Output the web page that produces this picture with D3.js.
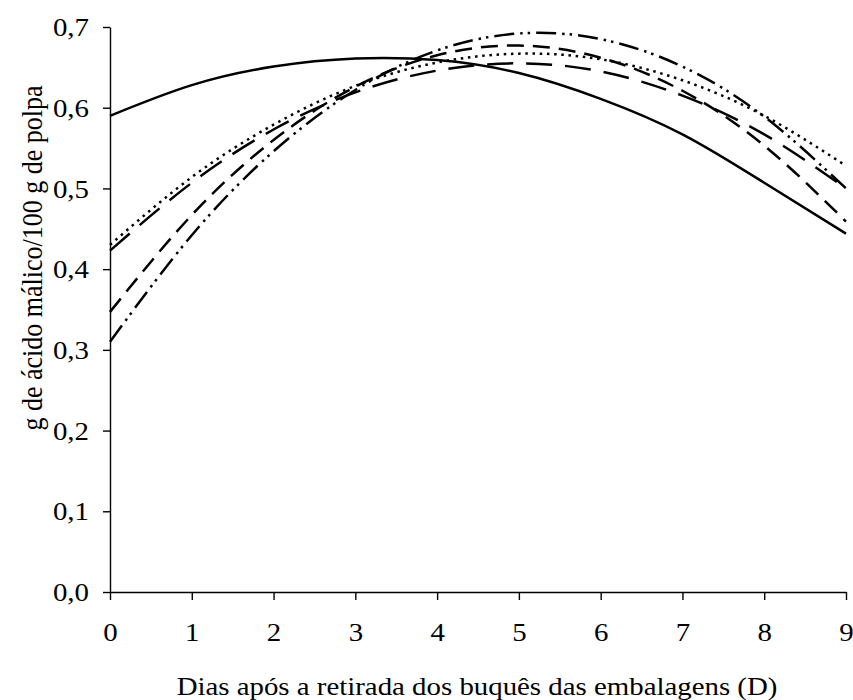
<!DOCTYPE html>
<html>
<head>
<meta charset="utf-8">
<script src="https://cdn.jsdelivr.net/npm/d3@7"></script>
<style>
  html, body { margin: 0; padding: 0; background: #fff; }
  svg text { font-family: "Liberation Serif", "Times New Roman", serif; fill: #000; }
</style>
</head>
<body>
<svg id="chart" width="853" height="700"></svg>
<script>
// ---- data ----
const days = [0, 1, 2, 3, 4, 5, 6, 7, 8, 9];
const xTickLabels = ["0", "1", "2", "3", "4", "5", "6", "7", "8", "9"];
const yTickValues = [0, 0.1, 0.2, 0.3, 0.4, 0.5, 0.6, 0.7];
const yTickLabels = ["0,0", "0,1", "0,2", "0,3", "0,4", "0,5", "0,6", "0,7"];

const serieSolid      = [0.590, 0.628, 0.651, 0.661, 0.659, 0.643, 0.611, 0.567, 0.507, 0.444];
const serieLongDash   = [0.423, 0.507, 0.573, 0.619, 0.646, 0.655, 0.645, 0.615, 0.567, 0.500];
const serieDotted     = [0.430, 0.514, 0.579, 0.627, 0.656, 0.667, 0.660, 0.634, 0.590, 0.528];
const serieDash       = [0.347, 0.467, 0.560, 0.626, 0.665, 0.677, 0.662, 0.621, 0.553, 0.459];
const serieDashDotDot = [0.310, 0.442, 0.546, 0.622, 0.671, 0.692, 0.685, 0.651, 0.589, 0.500];

const xTitle = "Dias após a retirada dos buquês das embalagens (D)";
const yTitle = "g de ácido málico/100 g de polpa";

const seriesList = [
  { values: serieSolid, dash: null },
  { values: serieLongDash, dash: "26,13" },
  { values: serieDotted, dash: "2.5,4.7" },
  { values: serieDash, dash: "17,9" },
  { values: serieDashDotDot, dash: "20,6,2.5,5,2.5,6" }
];

// ---- layout ----
const svg = d3.select("#chart");
const x = d3.scaleLinear().domain([0, 9]).range([110, 846]);
const y = d3.scaleLinear().domain([0, 0.7]).range([592, 27]);
const FONT = 26;
const SX = 1.11; // horizontal stretch of the glyphs seen in the reference

// axes
const yAxis = d3.axisLeft(y)
  .tickValues(yTickValues)
  .tickFormat((d, i) => yTickLabels[i])
  .tickSizeInner(7).tickSizeOuter(0).tickPadding(14);
const gy = svg.append("g").attr("transform", `translate(${x(0)},0)`).call(yAxis);

const xAxis = d3.axisBottom(x)
  .tickValues(days)
  .tickFormat((d, i) => xTickLabels[i])
  .tickSizeInner(8).tickSizeOuter(0).tickPadding(14);
const gx = svg.append("g").attr("transform", `translate(0,${y(0)})`).call(xAxis);

[gx, gy].forEach(g => {
  g.selectAll("path.domain").attr("stroke", "#000").attr("stroke-width", 1.4);
  g.selectAll(".tick line").attr("stroke", "#000").attr("stroke-width", 1.4);
  g.selectAll(".tick text")
    .style("font-family", '"Liberation Serif", "Times New Roman", serif')
    .style("font-size", FONT + "px").attr("fill", "#000");
});
gy.selectAll(".tick text")
  .attr("x", -21 / SX)
  .attr("dy", "0.33em")
  .attr("transform", `scale(${SX},1)`);
gx.selectAll(".tick text")
  .attr("y", 49)
  .attr("dy", 0)
  .attr("transform", `scale(${SX},1)`);

// lines
const line = d3.line()
  .x((d, i) => x(days[i]))
  .y(d => y(d))
  .curve(d3.curveNatural);

svg.append("g").selectAll("path.serie")
  .data(seriesList)
  .join("path")
  .attr("class", "serie")
  .attr("d", s => line(s.values))
  .attr("fill", "none")
  .attr("stroke", "#000")
  .attr("stroke-width", 2.5)
  .attr("stroke-dasharray", s => s.dash);

// titles
svg.append("text")
  .attr("transform", `translate(477,695) scale(${SX},1)`)
  .attr("text-anchor", "middle")
  .style("font-size", FONT + "px")
  .text(xTitle);

svg.append("text")
  .attr("transform", `translate(41.5,258) scale(${SX},1) rotate(-90)`)
  .attr("text-anchor", "middle")
  .style("font-size", FONT + "px")
  .text(yTitle);
</script>
</body>
</html>
